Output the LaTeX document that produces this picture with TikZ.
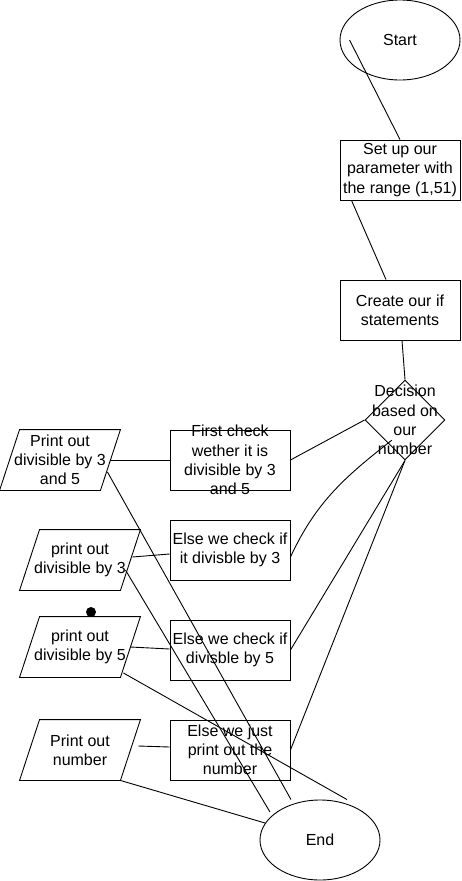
\documentclass[tikz,border=0pt]{standalone}
\usepackage{fontspec}
\setmainfont{Liberation Sans}
\usetikzlibrary{shapes.geometric}
\begin{document}
\begin{tikzpicture}[x=1pt, y=-1pt, line width=0.9pt, font=\fontsize{16}{19.2}\selectfont]
\tikzset{
    txt/.style={align=center, inner sep=0pt},
    term/.style={draw, ellipse, minimum width=120pt, minimum height=80pt, inner sep=0pt},
    stepbox/.style={draw, minimum width=120pt, minimum height=60pt, inner sep=0pt, label={[txt]center:#1}},
    iobox/.style={minimum width=120pt, minimum height=60pt, inner sep=0pt, label={[txt]center:#1}},
    decide/.style={draw, diamond, minimum width=80pt, minimum height=80pt, inner sep=0pt, label={[txt]center:#1}},
    dot/.style={fill, circle, inner sep=0pt, minimum size=10pt}
}
\useasboundingbox (0,0) rectangle (461,881);
\node[term] (start) at (400,40) {Start};
\node[stepbox={Set up our\\parameter with\\the range (1,51)}] (setup) at (400,170) {};
\node[stepbox={Create our if\\statements}] (create) at (400,310) {};
\node[decide={Decision\\based on\\our\\number}] (decision) at (405,420) {};
\node[stepbox={First check\\wether it is\\divisible by 3\\and 5}] (check35) at (230,460) {};
\node[stepbox={Else we check if\\it divisble by 3}] (check3) at (230,550) {};
\node[stepbox={Else we check if\\divisble by 5}] (check5) at (230,650) {};
\node[stepbox={Else we just\\print out the\\number}] (check0) at (230,750) {};
\node[iobox={Print out\\divisible by 3\\and 5}] (p35) at (60,460) {};
\node[iobox={print out\\divisible by 3}] (p3) at (80,560) {};
\node[iobox={print out\\divisible by 5}] (p5) at (80,647) {};
\node[iobox={Print out\\number}] (pnum) at (80,750) {};
\node[term] (end) at (320,840) {End};
\node[dot] (point) at (91,612) {};
\foreach \p in {p35,p3,p5,pnum}
{
  \draw ([xshift=20pt]\p.north west) -- (\p.north east) -- ([xshift=-20pt]\p.south east) -- (\p.south west) -- cycle;
}
\draw ([xshift=10pt]start.west) -- (setup.north);
\draw ([xshift=12pt]setup.south west) -- ([xshift=-14pt]create.north);
\draw ([xshift=2pt]create.south) -- (decision.north);
\draw (decision.west) -- (check35.east);
\draw ([xshift=7pt]decision.south west) to[out=218, in=65] ([yshift=-7pt]check3.east);
\draw (decision.south) -- (check5.east);
\draw (decision.south) -- (check0.east);
\draw ([xshift=-10pt]p35.east) -- (check35.west);
\draw ([xshift=-8pt,yshift=3pt]p3.east) -- ([yshift=-4pt]check3.west);
\draw ([xshift=-10pt]p5.east) -- ([yshift=1pt]check5.west);
\draw ([xshift=-2pt,yshift=4pt]pnum.east) -- ([yshift=3pt]check0.west);
\draw ([xshift=-13pt,yshift=-12pt]p35.east) -- ([xshift=-29pt]end.north);
\draw ([xshift=-15pt,yshift=-10pt]p3.east) -- ([xshift=-50pt,yshift=28pt]end.center);
\draw ([xshift=-17pt,yshift=-26pt]p5.east) -- ([xshift=27pt]end.north);
\draw ([xshift=-20pt]pnum.south east) -- ([xshift=-55pt,yshift=17pt]end.center);
\end{tikzpicture}
\end{document}
